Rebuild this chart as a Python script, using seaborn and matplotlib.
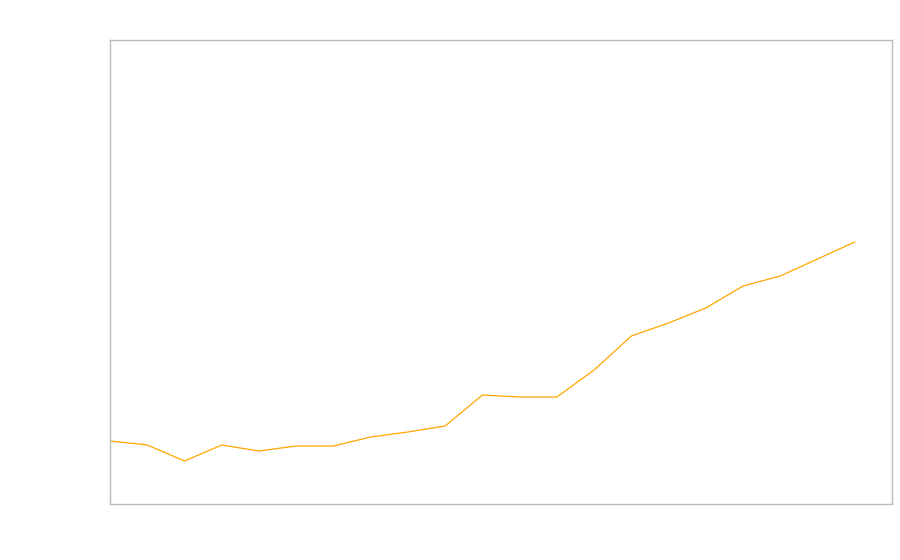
import matplotlib
matplotlib.use("Agg")
import matplotlib.pyplot as plt
import seaborn as sns
import pandas as pd

# Data (axis carries no labels)
index = list(range(21))
values = [63, 59, 43, 59, 53, 58, 58, 67, 72, 78, 109, 107, 107, 134, 168, 181, 196, 218, 228, 245, 262]

df = pd.DataFrame({"i": index, "v": values})

sns.set_style("white")
fig = plt.figure(figsize=(9, 5.6), dpi=100)
ax = fig.add_axes([110 / 900, 56 / 560, 782 / 900, 464 / 560])

sns.lineplot(data=df, x="i", y="v", ax=ax, color="#FFA500", linewidth=0.9)

ax.set_xlim(0, 21)
ax.set_ylim(0, 464)
ax.set_xticks([])
ax.set_yticks([])
ax.set_xlabel("")
ax.set_ylabel("")
for s in ax.spines.values():
    s.set_visible(True)
    s.set_color("#BBBBBB")
    s.set_linewidth(1.0)

fig.savefig("out.png", dpi=100, facecolor="white")
